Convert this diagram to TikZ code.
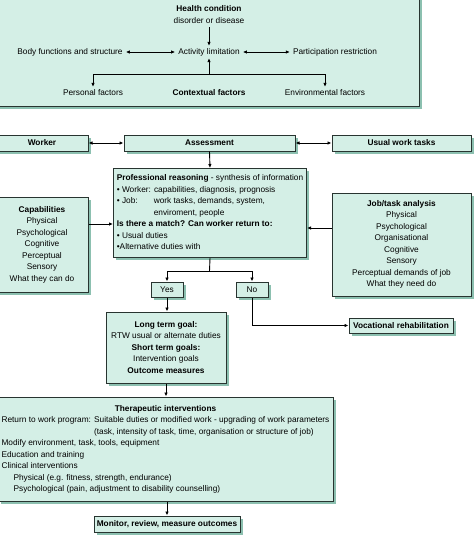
\documentclass[tikz,border=0pt]{standalone}
\usepackage{fontspec}
\setmainfont{Liberation Sans}
\usetikzlibrary{shadows,arrows.meta,calc}
\definecolor{boxfill}{RGB}{212,239,230}
\definecolor{boxshadow}{RGB}{140,192,176}
\definecolor{boxline}{RGB}{40,52,48}
\begin{document}
\begin{tikzpicture}[x=1pt,y=-1pt,
  every node/.style={font=\fontsize{8.3}{11.5}\selectfont, inner sep=0pt},
  bf/.style={font=\fontsize{8.3}{11.5}\selectfont\bfseries},
  box/.style={draw=boxline, line width=1pt, fill=boxfill,
    drop shadow={shadow xshift=2.5pt, shadow yshift=-2.5pt, fill=boxshadow, opacity=1}},
  lbl/.style={inner xsep=3pt, inner ysep=2pt, text height=6pt, text depth=1.8pt},
  arr/.style={-{Latex[length=4pt,width=3.5pt]}, line width=0.9pt},
  darr/.style={{Latex[length=4pt,width=3.5pt]}-{Latex[length=4pt,width=3.5pt]}, line width=0.9pt}]
\useasboundingbox (0,0) rectangle (474,536);

% ICF box
\node[box, minimum width=424pt, minimum height=110pt, anchor=south east] (top) at (420,107) {};
\node[lbl,bf] (hc) at (209,9) {Health condition};
\node[lbl] (dis) at (209,21) {disorder or disease};
\node[lbl] (act) at (209,52) {Activity limitation};
\node[lbl] (body) at (70,52) {Body functions and structure};
\node[lbl] (part) at (335,52) {Participation restriction};
\node[lbl] (pers) at (93,93) {Personal factors};
\node[lbl,bf] (ctx) at (209,93) {Contextual factors};
\node[lbl] (env) at (325,93) {Environmental factors};
\coordinate (cj) at (209,74);
\draw[arr] (dis.south) -- (act.north);
\draw[darr] (body.east) -- (act.west);
\draw[darr] (act.east) -- (part.west);
\draw[arr] (cj) -- (act.south);
\draw[arr] (cj) -| (pers.north);
\draw[arr] (cj) -| (env.north);

% assessment row
\node[box, bf, minimum width=92pt, minimum height=16pt] (worker) at (42,143) {Worker};
\node[box, bf, minimum width=171pt, minimum height=16pt] (assess) at (209.5,143) {Assessment};
\node[box, bf, minimum width=139pt, minimum height=16pt] (usual) at (401.5,143) {Usual work tasks};
\draw[darr] (worker) -- (assess);
\draw[darr] (assess) -- (usual);

% professional reasoning
\node[box, minimum width=193pt, minimum height=89pt, anchor=north west] (prof) at (113,168) {\begin{tabular}{@{}l@{}}
\textbf{Professional reasoning} - synthesis of information\\
• Worker: capabilities, diagnosis, prognosis\\
\makebox[37pt][l]{• Job:}work tasks, demands, system,\\
\hspace*{37pt}enviroment, people\\
\textbf{Is there a match? Can worker return to:}\\
• Usual duties\\
•Alternative duties with
\end{tabular}};
\draw[arr] (assess.south) -- (prof.north);

\node[box, minimum width=92pt, minimum height=95pt, align=center] (cap) at (42,244.5) {\textbf{Capabilities}\\Physical\\Psychological\\Cognitive\\Perceptual\\Sensory\\What they can do};
\node[box, minimum width=139pt, minimum height=103pt, align=center] (job) at (401.5,244.5) {\textbf{Job/task analysis}\\Physical\\Psychological\\Organisational\\Cognitive\\Sensory\\Perceptual demands of job\\What they need do};
\coordinate (ca) at ([yshift=20.5pt]cap.east);
\draw[arr] (ca) -- (ca -| prof.west);
\coordinate (ja) at ([yshift=16.5pt]job.west);
\draw[arr] (ja) -- (ja -| prof.east);

% decision
\node[box, minimum width=32pt, minimum height=15pt] (yes) at (167,289.5) {Yes};
\node[box, minimum width=32pt, minimum height=15pt] (no) at (252,289.5) {No};
\coordinate (split) at (209.5,271);
\draw[line width=0.9pt] (prof.south) -- (split);
\draw[arr] (split) -| (yes.north);
\draw[arr] (split) -| (no.north);

\node[box, minimum width=120pt, minimum height=71pt, align=center] (long) at (166,347.5) {\textbf{Long term goal:}\\RTW usual or alternate duties\\\textbf{Short term goals:}\\Intervention goals\\\textbf{Outcome measures}};
\draw[arr] (yes.south) -- (yes.south |- long.north);

\node[box, bf, minimum width=104pt, minimum height=15pt] (voc) at (401,325.5) {Vocational rehabilitation};
\draw[arr] (no.south) |- (voc.west);

% interventions
\node[box, minimum width=335pt, minimum height=104pt] (ther) at (165.5,449) {\begin{tabular}{@{}l@{}}
\multicolumn{1}{@{}c@{}}{\textbf{Therapeutic interventions}}\\
Return to work program: \begin{tabular}[t]{@{}l@{}}Suitable duties or modified work - upgrading of work parameters\\(task, intensity of task, time, organisation or structure of job)\end{tabular}\\
Modify environment, task, tools, equipment\\
Education and training\\
Clinical interventions\\
\hspace*{12pt}Physical (e.g. fitness, strength, endurance)\\
\hspace*{12pt}Psychological (pain, adjustment to disability counselling)
\end{tabular}};
\draw[arr] (long.south) -- (long.south |- ther.north);

\node[box, bf, minimum width=146pt, minimum height=16pt] (mon) at (167,524) {Monitor, review, measure outcomes};
\draw[arr] (ther.south -| mon.north) -- (mon.north);
\end{tikzpicture}
\end{document}
